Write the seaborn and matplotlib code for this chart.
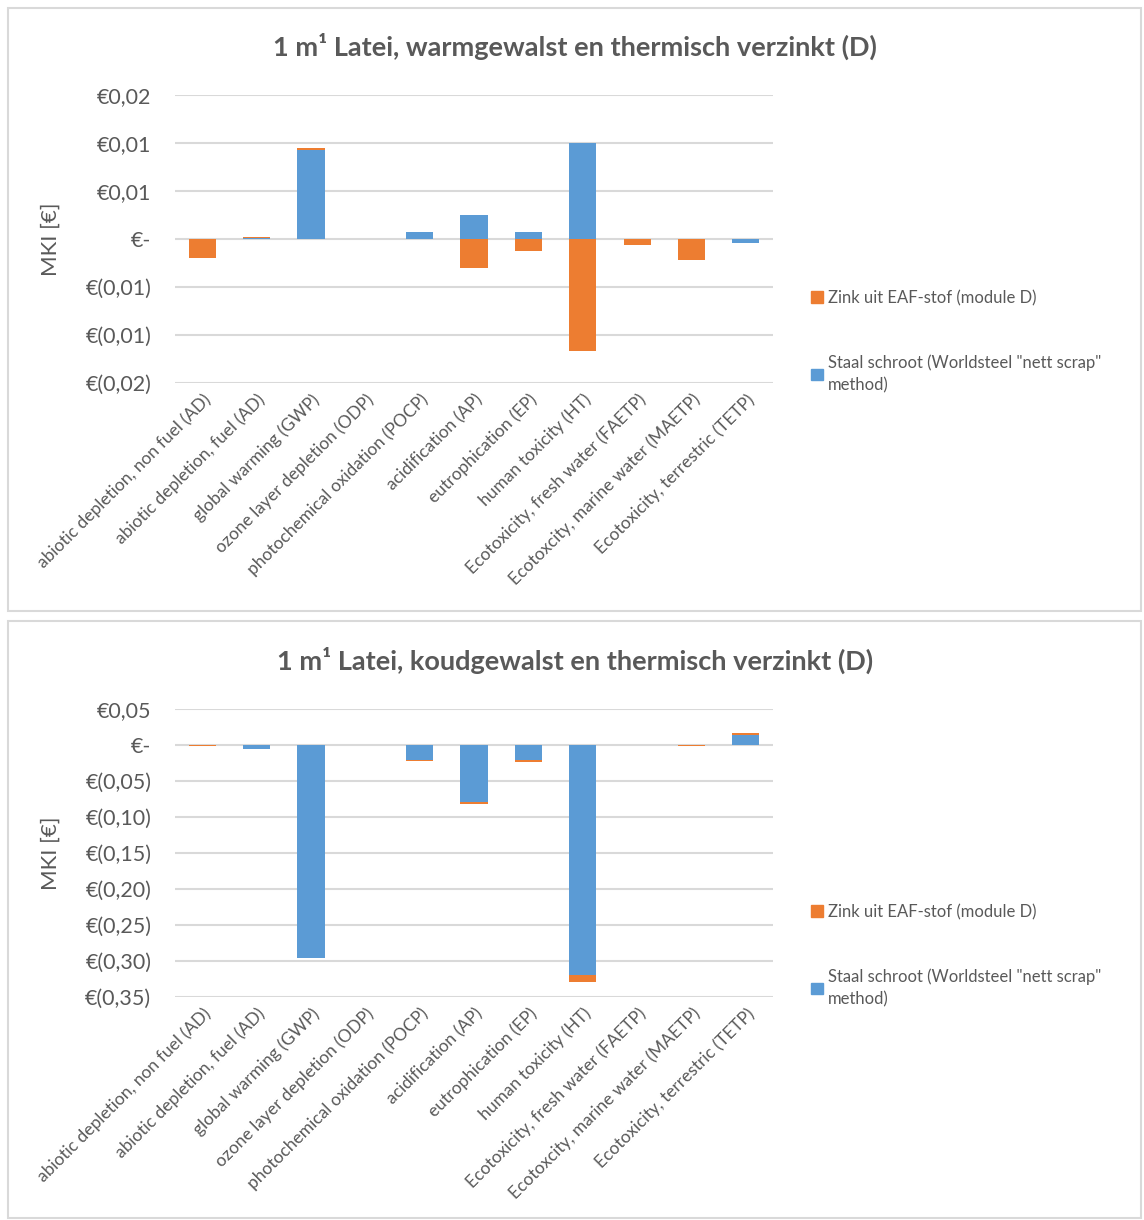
import matplotlib
matplotlib.use("Agg")
import matplotlib.pyplot as plt
import numpy as np
import pandas as pd
import seaborn as sns
from matplotlib.patches import Patch, Rectangle

CATEGORIES = [
	"abiotic depletion, non fuel (AD)",
	"abiotic depletion, fuel (AD)",
	"global warming (GWP)",
	"ozone layer depletion (ODP)",
	"photochemical oxidation (POCP)",
	"acidification (AP)",
	"eutrophication (EP)",
	"human toxicity (HT)",
	"Ecotoxicity, fresh water (FAETP)",
	"Ecotoxcity, marine water (MAETP)",
	"Ecotoxicity, terrestric (TETP)",
]

# warmgewalst (top chart)
STAAL_WARM = [0.0, 0.0001, 0.0093, 0.0, 0.0007, 0.00247, 0.0007, 0.0100, 0.0, 0.0, -0.00045]
ZINK_WARM = [-0.00198, 0.0001, 0.00017, 0.0, 0.0, -0.00306, -0.00128, -0.01167, -0.0006, -0.0022, 0.0]

# koudgewalst (bottom chart)
STAAL_KOUD = [-0.0003, -0.0051, -0.2953, 0.0, -0.0214, -0.0795, -0.0214, -0.3195, 0.0, 0.0, 0.0144]
ZINK_KOUD = [-0.0005, 0.0, -0.0005, 0.0, -0.0014, -0.0023, -0.0028, -0.0098, 0.0, -0.0019, 0.0023]

WARM_TICKS = [0.015, 0.01, 0.005, 0.0, -0.005, -0.01, -0.015]
WARM_TICKLABELS = ["€0,02", "€0,01", "€0,01", "€-", "€(0,01)", "€(0,01)", "€(0,02)"]
KOUD_TICKS = [0.05, 0.0, -0.05, -0.10, -0.15, -0.20, -0.25, -0.30, -0.35]
KOUD_TICKLABELS = ["€0,05", "€-", "€(0,05)", "€(0,10)", "€(0,15)", "€(0,20)",
	"€(0,25)", "€(0,30)", "€(0,35)"]

TITLE_WARM = "1 m¹ Latei, warmgewalst en thermisch verzinkt (D)"
TITLE_KOUD = "1 m¹ Latei, koudgewalst en thermisch verzinkt (D)"
LABEL_ZINK = "Zink uit EAF-stof (module D)"
LABEL_STAAL = 'Staal schroot (Worldsteel "nett scrap"\nmethod)'

BLUE = "#5B9BD5"
ORANGE = "#ED7D31"
GRID = "#D9D9D9"
TEXT = "#595959"

W, H = 1144, 1220


def fx(px):
	return px / W


def fy(py):
	return 1 - py / H


def draw_panel(fig, ax, staal, zink, ticks, ticklabels, title, title_y, legend_top):
	staal = np.asarray(staal)
	zink = np.asarray(zink)
	# Excel-style stacking: zink stacks on staal when signs agree, else starts at zero
	same_sign = np.sign(staal) == np.sign(zink)
	outer = np.where(same_sign, staal + zink, zink)
	df = pd.DataFrame({"cat": CATEGORIES, "outer": outer, "staal": staal})

	sns.barplot(data=df, x="cat", y="outer", color=ORANGE, saturation=1,
		width=0.5, linewidth=0, ax=ax)
	sns.barplot(data=df, x="cat", y="staal", color=BLUE, saturation=1,
		width=0.5, linewidth=0, ax=ax)

	ax.set_ylim(min(ticks), max(ticks))
	ax.set_xlim(-0.5, len(CATEGORIES) - 0.5)
	ax.set_yticks(ticks)
	ax.set_yticklabels(ticklabels, fontsize=15.5, color=TEXT)
	ax.set_xticks(range(len(CATEGORIES)))
	ax.set_xticklabels(CATEGORIES, rotation=45, ha="right", rotation_mode="anchor",
		fontsize=12.5, color=TEXT)
	ax.tick_params(axis="both", length=0)
	ax.tick_params(axis="y", pad=17)
	ax.tick_params(axis="x", pad=6)
	ax.set_xlabel("")
	ax.set_ylabel("MKI [€]", fontsize=16, color=TEXT)
	ax.yaxis.set_label_coords(-0.192, 0.5)
	for s in ax.spines.values():
		s.set_visible(False)
	ax.grid(axis="y", color=GRID, linewidth=1.5)
	ax.grid(axis="x", visible=False)
	ax.set_axisbelow(True)

	fig.text(fx(575), fy(title_y), title, ha="center", va="center",
		fontsize=19.5, fontweight="bold", color=TEXT)

	handles = [Patch(color=ORANGE, label=LABEL_ZINK), Patch(color=BLUE, label=LABEL_STAAL)]
	leg = fig.legend(handles=handles, loc="upper left", bbox_to_anchor=(fx(811), fy(legend_top)),
		bbox_transform=fig.transFigure, frameon=False, fontsize=12, labelcolor=TEXT,
		handlelength=0.7, handleheight=0.7, handletextpad=0.3, labelspacing=2.9,
		borderpad=0, borderaxespad=0)
	for t in leg.get_texts():
		t.set_linespacing(1.45)


def main():
	sns.set_theme(style="white")
	plt.rcParams["font.family"] = ["Lato", "DejaVu Sans"]

	fig = plt.figure(figsize=(W / 100, H / 100), dpi=100)
	fig.patch.set_facecolor("white")

	# chart frames
	fig.add_artist(Rectangle((fx(8), fy(611)), fx(1133), 603 / H, transform=fig.transFigure,
		fill=False, edgecolor=GRID, linewidth=1.5))
	fig.add_artist(Rectangle((fx(8), fy(1218)), fx(1133), 597 / H, transform=fig.transFigure,
		fill=False, edgecolor=GRID, linewidth=1.5))

	ax_top = fig.add_axes([fx(175), fy(383), fx(773) - fx(175), (383 - 95) / H])
	ax_bot = fig.add_axes([fx(175), fy(997), fx(773) - fx(175), (997 - 709) / H])

	draw_panel(fig, ax_top, STAAL_WARM, ZINK_WARM, WARM_TICKS, WARM_TICKLABELS,
		TITLE_WARM, 46, 290)
	draw_panel(fig, ax_bot, STAAL_KOUD, ZINK_KOUD, KOUD_TICKS, KOUD_TICKLABELS,
		TITLE_KOUD, 660, 904)

	fig.savefig("out.png", dpi=100, facecolor="white")
	plt.close(fig)


if __name__ == "__main__":
	main()
